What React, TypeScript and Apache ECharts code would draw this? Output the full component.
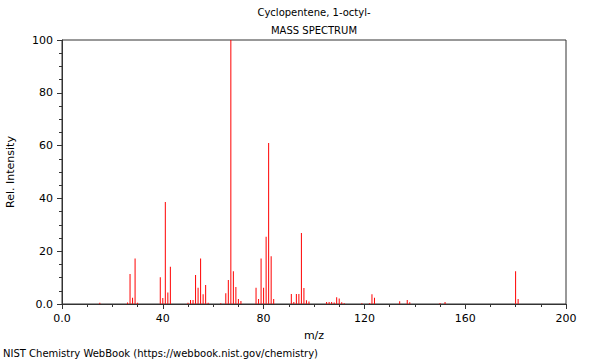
import React, { useEffect, useRef } from "react";
import * as echarts from "echarts";

const mzValues = [15, 26, 27, 28, 29, 30, 39, 40, 41, 42, 43, 50, 51, 52, 53, 54, 55, 56, 57, 58, 63, 65, 66, 67, 68, 69, 70, 71, 77, 78, 79, 80, 81, 82, 83, 84, 91, 92, 93, 94, 95, 96, 97, 98, 105, 106, 107, 108, 109, 110, 111, 112, 119, 122, 123, 124, 134, 137, 138, 150, 152, 180, 181];
const intensities = [0.5, 0.6, 11.4, 2.4, 17.2, 0.5, 10.1, 2.3, 38.6, 4.4, 14.1, 0.5, 1.5, 1.5, 11, 6.2, 17.2, 3.7, 7.2, 0.5, 0.3, 4.1, 9.1, 100, 12.4, 6.4, 1.9, 1.1, 6.2, 1.9, 17.2, 6.2, 25.5, 61, 18.1, 1.9, 3.8, 0.8, 3.8, 3.8, 26.9, 6.1, 1.4, 0.9, 0.8, 0.8, 0.8, 0.6, 2.6, 2.1, 0.7, 0.3, 0.3, 0.3, 3.7, 2.4, 1.0, 1.5, 0.7, 0.4, 0.8, 12.4, 1.9];
const titleLines = ["Cyclopentene, 1-octyl-", "MASS SPECTRUM"];
const xAxisName = "m/z";
const yAxisName = "Rel. Intensity";
const footer = "NIST Chemistry WebBook (https://webbook.nist.gov/chemistry)";

const fmt = (v: number) => (v === 0 ? "0.0" : String(v));

export default function App() {
  const ref = useRef<HTMLDivElement>(null);
  useEffect(() => {
    if (!ref.current) return;
    const chart = echarts.init(ref.current, undefined, { renderer: "svg" });
    const font = "DejaVu Sans";
    const axisColor = "#333";
    const tStyle = { fontSize: 10, fontWeight: "normal", color: "#000", fontFamily: font };
    chart.setOption({
      animation: false,
      textStyle: { fontFamily: font },
      title: [
        { text: titleLines[0], left: 314, top: 7, padding: 0, textAlign: "center", textStyle: tStyle },
        { text: titleLines[1], left: 314, top: 25, padding: 0, textAlign: "center", textStyle: tStyle },
        { text: footer, left: 3, top: 348, padding: 0, textStyle: tStyle },
      ],
      grid: {
        left: 62, right: 34, top: 40, bottom: 56,
        outerBoundsMode: "none",
        containLabel: false,
        show: true, borderColor: axisColor, borderWidth: 1, backgroundColor: "transparent",
      },
      xAxis: {
        type: "value",
        min: 0,
        max: 200,
        interval: 40,
        name: xAxisName,
        nameLocation: "middle",
        nameGap: 26,
        nameTextStyle: { fontSize: 11, color: "#000", fontFamily: font },
        axisLine: { onZero: false, lineStyle: { color: axisColor } },
        axisTick: { show: true, length: 5, lineStyle: { color: axisColor } },
        minorTick: { show: true, splitNumber: 4, length: 3, lineStyle: { color: axisColor } },
        axisLabel: { formatter: fmt, fontSize: 11, color: "#000", margin: 9, fontFamily: font },
        splitLine: { show: false },
      },
      yAxis: {
        type: "value",
        min: 0,
        max: 100,
        interval: 20,
        name: yAxisName,
        nameLocation: "middle",
        nameGap: 46,
        nameTextStyle: { fontSize: 11, color: "#000", fontFamily: font },
        axisLine: { show: true, onZero: false, lineStyle: { color: axisColor } },
        axisTick: { show: true, length: 5, lineStyle: { color: axisColor } },
        minorTick: { show: true, splitNumber: 4, length: 3, lineStyle: { color: axisColor } },
        axisLabel: { formatter: fmt, fontSize: 11, color: "#000", margin: 9, fontFamily: font },
        splitLine: { show: false },
      },
      series: [
        {
          type: "bar",
          barWidth: 1,
          silent: true,
          emphasis: { disabled: true },
          itemStyle: { color: "#ff0000", borderWidth: 0 },
          data: mzValues.map((m, i) => [m, intensities[i]]),
        },
      ],
    });
    return () => chart.dispose();
  }, []);
  return (
    <div
      ref={ref}
      style={{ position: "fixed", left: 0, top: 0, width: 600, height: 360, background: "#fff" }}
    />
  );
}
